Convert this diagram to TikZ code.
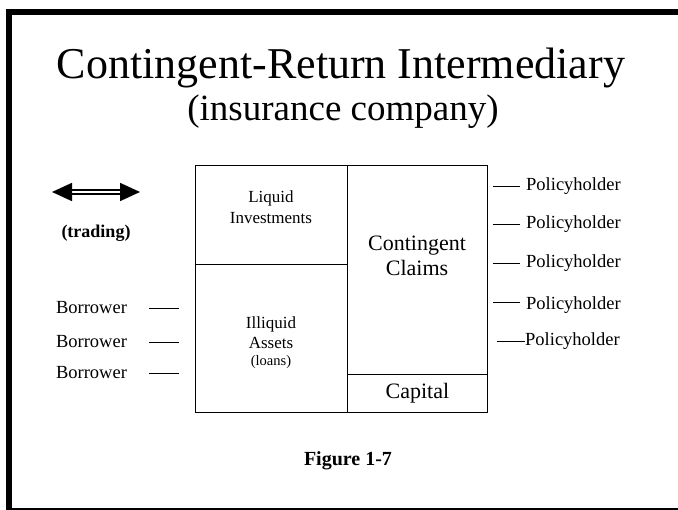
\documentclass[tikz,border=0pt]{standalone}
\usepackage{fontspec}
\setmainfont{Liberation Serif}
\usetikzlibrary{arrows.meta}

\begin{document}
\begin{tikzpicture}[x=1pt,y=-1pt,
    cell/.style={draw, line width=0.8pt, inner sep=0pt, anchor=north west},
    entry/.style={align=center, inner sep=0pt},
    party/.style={inner sep=0pt, font=\fontsize{18.5}{22}\selectfont},
    tick/.style={line width=0.8pt},
    trade/.style={double, double distance=1.8pt, line width=1.7pt,
      {Triangle[length=20pt,width=18pt]}-{Triangle[length=20pt,width=18pt]}}]
  \useasboundingbox (0,0) rectangle (678,510);
  % frame
  \draw[line width=6pt] (9,12) rectangle (682,511);
  % title
  \node[anchor=base, font=\fontsize{44}{48}\selectfont] (title) at (341,79)
    {Contingent-Return Intermediary};
  \node[anchor=base, font=\fontsize{37}{42}\selectfont] (subtitle) at (343,121)
    {(insurance company)};
  % balance sheet
  \node[cell, minimum width=152pt, minimum height=99pt] (liquid) at (195,165) {};
  \node[cell, minimum width=152pt, minimum height=148pt] (illiquid) at (195,264) {};
  \node[cell, minimum width=140pt, minimum height=209pt] (claims) at (347,165) {};
  \node[cell, minimum width=140pt, minimum height=38pt] (capital) at (347,374) {};
  \node[entry, font=\fontsize{17}{21}\selectfont] (liquidtxt) at (271,207)
    {Liquid\\Investments};
  \node[entry, font=\fontsize{17}{20}\selectfont] (illiquidtxt) at (271,343)
    {Illiquid\\Assets\\[-3pt]{\fontsize{14.5}{16}\selectfont(loans)}};
  \node[entry, font=\fontsize{22}{25}\selectfont] (claimstxt) at (417,256)
    {Contingent\\Claims};
  \node[font=\fontsize{22}{25}\selectfont] (capitaltxt) at (capital.center) {Capital};
  % trading
  \coordinate (tradel) at (52,192);
  \coordinate (trader) at (140,192);
  \draw[trade] (tradel) -- (trader);
  \node[font=\bfseries\fontsize{18}{22}\selectfont] (trading) at (96,233) {(trading)};
  % borrowers
  \foreach \i/\y in {1/308,2/342,3/373}{
    \node[party] (borrower\i) at (91.5,\y) {Borrower};
    \draw[tick] ([xshift=22pt]borrower\i.east) -- ++(30,0);
  }
  % policyholders
  \foreach \i/\y/\d in {1/186/0,2/224/0,3/263/0,4/305/3}{
    \node[party, anchor=west] (holder\i) at (526,\y) {Policyholder};
    \draw[tick] ([xshift=-6pt,yshift=\d pt]holder\i.west) -- ++(-27,0);
  }
  \node[party, anchor=west] (holder5) at (525,341) {Policyholder};
  \draw[tick] (holder5.west) -- ++(-28,0);
  % caption
  \node[font=\bfseries\fontsize{20}{24}\selectfont] (figure) at (348,461) {Figure 1-7};
\end{tikzpicture}
\end{document}
